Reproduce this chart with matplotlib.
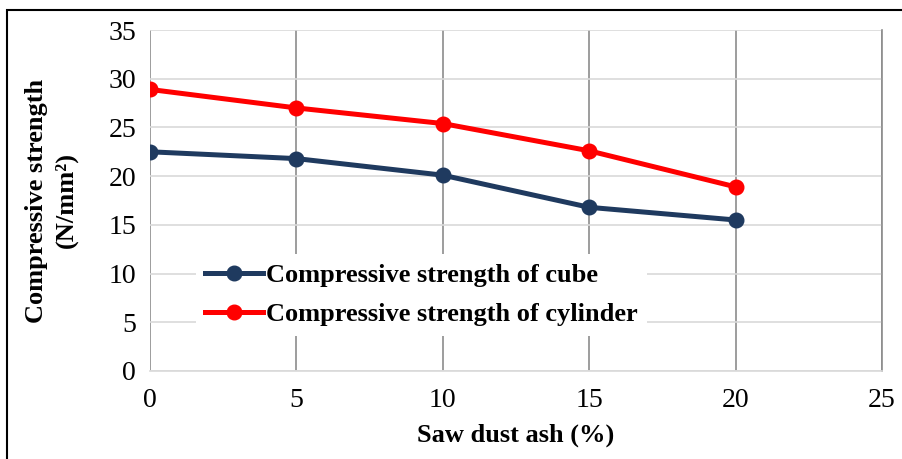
import matplotlib
matplotlib.use("Agg")
import matplotlib.pyplot as plt
from matplotlib.patches import Rectangle

plt.rcParams['font.family'] = ['Liberation Serif', 'DejaVu Serif']

# saw dust ash replacement (%) and measured strengths (N/mm2)
ash = [0, 5, 10, 15, 20]
cube = [22.5, 21.8, 20.1, 16.8, 15.5]
cylinder = [28.9, 27.0, 25.4, 22.6, 18.9]
xticks = [0, 5, 10, 15, 20, 25]
yticks = [0, 5, 10, 15, 20, 25, 30, 35]

fig = plt.figure(figsize=(9.02, 4.59), dpi=100)
ax = fig.add_axes([150/902, 1 - 371/459, 732/902, 341/459])

# outer frame around the whole chart
fig.patches.append(Rectangle((7/902, -0.1), 1.2, 1.1 - 10/459, transform=fig.transFigure,
                             fill=False, ec='black', lw=1.5))

ax.plot(ash, cube, color='#1f3a5f', lw=3.6, marker='o', ms=10.5, label='Compressive strength of cube')
ax.plot(ash, cylinder, color='#ff0000', lw=3.6, marker='o', ms=10.5, label='Compressive strength of cylinder')

ax.set_xlim(0, 25)
ax.set_ylim(0, 35)
ax.set_xticks(xticks)
ax.set_yticks(yticks)
ax.grid(axis='y', color='#d9d9d9', lw=1.2)
ax.grid(axis='x', color='#8c8c8c', lw=1.2)
ax.set_axisbelow(True)
for s in ['top', 'left']:
    ax.spines[s].set_visible(False)
ax.spines['bottom'].set_color('#d9d9d9')
ax.spines['bottom'].set_linewidth(1.2)
ax.spines['right'].set_color('#8c8c8c')
ax.spines['right'].set_linewidth(1.2)
ax.tick_params(length=0, labelsize=20, pad=10)
ax.tick_params(axis='x', pad=12)

ax.set_xlabel('Saw dust ash (%)', fontsize=19, fontweight='bold', labelpad=8)
ax.set_ylabel('Compressive strength\n(N/mm²)', fontsize=19, fontweight='bold',
              labelpad=22, linespacing=1.35)

leg = ax.legend(loc='lower left', bbox_to_anchor=(0.045, 0.065), frameon=True, fancybox=False,
                edgecolor='none', framealpha=1, prop={'weight': 'bold', 'size': 19},
                handlelength=2.2, handletextpad=0.1, borderpad=0.35, labelspacing=0.6)

fig.savefig('out.png', dpi=100)
